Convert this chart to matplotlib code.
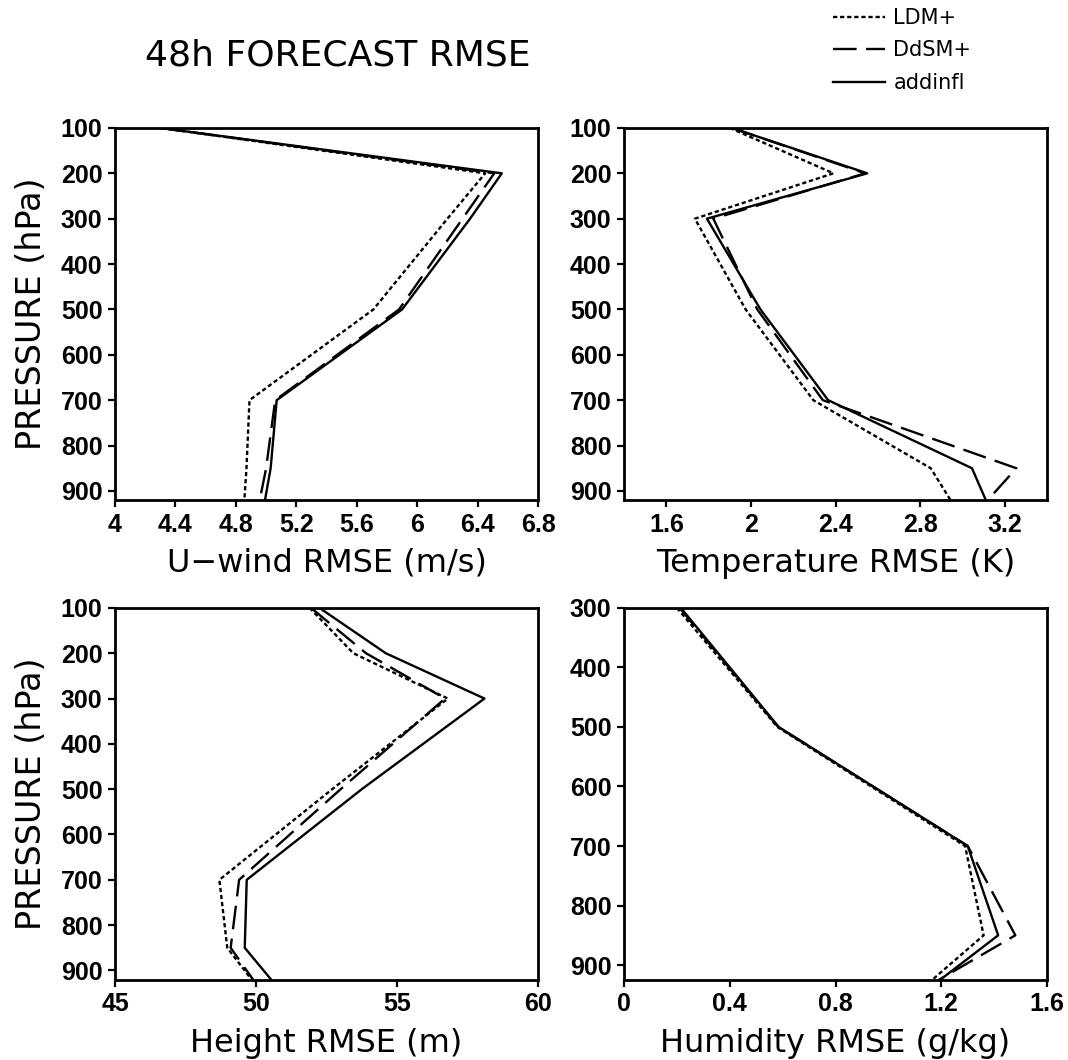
import matplotlib
matplotlib.use("Agg")
import matplotlib.pyplot as plt
from matplotlib.lines import Line2D

# pressure levels (hPa)
levels = [100, 200, 300, 500, 700, 850, 925]
hum_levels = [300, 500, 700, 850, 925]

# U-wind RMSE (m/s)
u_ldm = [4.30, 6.45, 6.20, 5.71, 4.89, 4.87, 4.855]
u_ddsm = [4.30, 6.51, 6.30, 5.88, 5.06, 5.00, 4.955]
u_add = [4.30, 6.56, 6.35, 5.90, 5.07, 5.03, 4.99]

# Temperature RMSE (K)
t_ldm = [1.90, 2.39, 1.735, 1.975, 2.295, 2.85, 2.95]
t_ddsm = [1.91, 2.54, 1.822, 2.03, 2.34, 3.255, 3.11]
t_add = [1.91, 2.55, 1.792, 2.045, 2.365, 3.045, 3.115]

# Height RMSE (m)
z_ldm = [51.9, 53.45, 56.8, 52.7, 48.7, 48.98, 49.9]
z_ddsm = [51.95, 53.9, 56.7, 53.0, 49.4, 49.1, 49.95]
z_add = [52.25, 54.6, 58.1, 53.75, 49.67, 49.6, 50.6]

# Humidity RMSE (g/kg)
q_ldm = [0.20, 0.58, 1.29, 1.36, 1.165]
q_ddsm = [0.21, 0.583, 1.30, 1.48, 1.19]
q_add = [0.215, 0.585, 1.30, 1.415, 1.195]

names = ["LDM+", "DdSM+", "addinfl"]

LW = 1.7
styles = {
    "LDM+": dict(color="black", lw=LW, linestyle=(0, (1.8, 1.2))),
    "DdSM+": dict(color="black", lw=LW, linestyle=(0, (10, 4))),
    "addinfl": dict(color="black", lw=LW, linestyle="-"),
}

fig = plt.figure(figsize=(10.68, 10.60), dpi=100)

W, H = 0.3961, 0.351
panels = [
    # (rect, series, levels, xlim, xticks, xticklabels, ylim, yticks, xlabel, show ylabel)
    ([0.1077, 0.5283, W, H], (u_ldm, u_ddsm, u_add), levels, (4, 6.8),
     [4, 4.4, 4.8, 5.2, 5.6, 6, 6.4, 6.8], ["4", "4.4", "4.8", "5.2", "5.6", "6", "6.4", "6.8"],
     (920, 100), range(100, 901, 100), "U\u2212wind RMSE (m/s)", True),
    ([0.5843, 0.5283, W, H], (t_ldm, t_ddsm, t_add), levels, (1.4, 3.4),
     [1.6, 2.0, 2.4, 2.8, 3.2], ["1.6", "2", "2.4", "2.8", "3.2"],
     (920, 100), range(100, 901, 100), "Temperature RMSE (K)", False),
    ([0.1077, 0.0755, W, H], (z_ldm, z_ddsm, z_add), levels, (45, 60),
     [45, 50, 55, 60], ["45", "50", "55", "60"],
     (921, 100), range(100, 901, 100), "Height RMSE (m)", True),
    ([0.5843, 0.0755, W, H], (q_ldm, q_ddsm, q_add), hum_levels, (0, 1.6),
     [0, 0.4, 0.8, 1.2, 1.6], ["0", "0.4", "0.8", "1.2", "1.6"],
     (925, 300), range(300, 901, 100), "Humidity RMSE (g/kg)", False),
]

for rect, series, lev, xlim, xt, xtl, ylim, yt, xlab, show_ylab in panels:
    ax = fig.add_axes(rect)
    for name, vals in zip(names, series):
        ax.plot(vals, lev, **styles[name])
    ax.set_xlim(*xlim)
    ax.set_ylim(*ylim)
    ax.set_xticks(xt)
    ax.set_xticklabels(xtl)
    ax.set_yticks(list(yt))
    for s in ax.spines.values():
        s.set_linewidth(2.0)
    ax.tick_params(direction="out", length=5, width=1.6, top=False, right=False,
                   labelsize=18, pad=4)
    for lab in ax.get_xticklabels() + ax.get_yticklabels():
        lab.set_fontfamily("Liberation Sans")
        lab.set_fontweight("bold")
    ax.set_xlabel(xlab, fontsize=23, labelpad=8)
    if show_ylab:
        ax.set_ylabel("PRESSURE (hPa)", fontsize=24, labelpad=9)

fig.text(0.316, 0.948, "48h FORECAST RMSE", fontsize=26, ha="center", va="center")

handles = [Line2D([], [], **styles[n]) for n in names]
fig.legend(handles, names, loc="upper left", bbox_to_anchor=(833 / 1068, 1 - 8 / 1060),
           frameon=False, fontsize=15, handlelength=2.5, handletextpad=0.4,
           labelspacing=0.6, borderpad=0, borderaxespad=0)

fig.savefig("out.png", dpi=100)
